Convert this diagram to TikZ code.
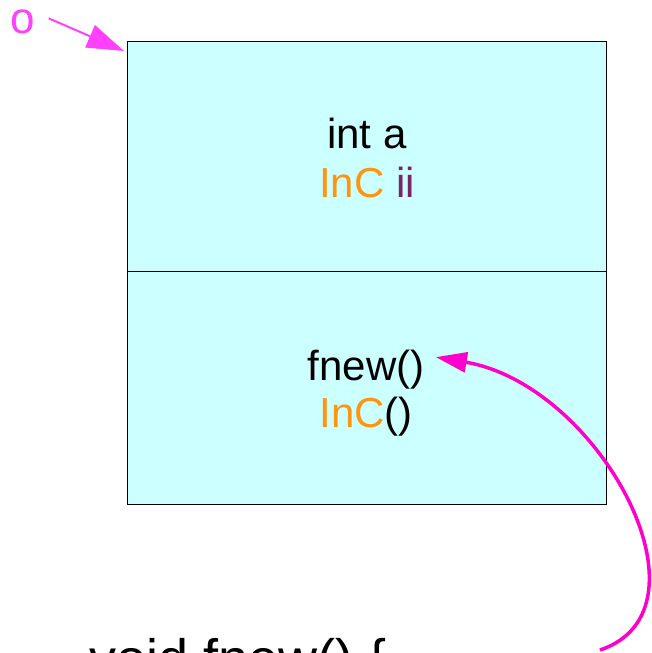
\documentclass[tikz,border=0pt]{standalone}
\usepackage{fontspec}
\setmainfont{Liberation Sans}
\usetikzlibrary{arrows.meta,positioning}
\definecolor{cellcyan}{HTML}{CCFFFF}
\definecolor{incorange}{HTML}{FF950E}
\definecolor{varpurple}{HTML}{7B2366}
\definecolor{refpink}{HTML}{FF40FF}
\definecolor{callpink}{HTML}{FF00CC}

\begin{document}
\begin{tikzpicture}[
  x=1pt, y=-1pt,
  cell/.style={draw, fill=cellcyan, line width=0.8pt, minimum width=479pt, inner sep=0pt, outer sep=0pt},
  code/.style={font=\fontsize{42pt}{49pt}\selectfont, anchor=base},
  refarrow/.style={-{Triangle[length=37pt,width=24pt]}, refpink, line width=2pt},
  callarrow/.style={-{Triangle[length=31pt,width=20pt]}, callpink, line width=3.5pt}
]
\useasboundingbox (0,0) rectangle (652,653);
\clip (0,0) rectangle (652,653);

% object layout: two cells
\node[cell, minimum height=230pt, anchor=north west] (upper) at (127,41) {};
\node[cell, minimum height=233pt, below=0pt of upper] (lower) {};

\node[code] (inta)    at (367,148) {int a};
\node[code] (incii)   at (367,197) {\textcolor{incorange}{InC} \textcolor{varpurple}{ii}};
\node[code] (fnew)    at (366,380) {fnew()};
\node[code] (inccall) at (366,427) {\textcolor{incorange}{InC}()};

% object name pointing at the block
\node[font=\fontsize{44pt}{50pt}\selectfont, text=refpink, anchor=base] (obj) at (23,33) {o};
\draw[refarrow] ([xshift=10pt,yshift=3pt]obj.east) -- ([xshift=-3pt,yshift=-10pt]upper.north west);

% definition below, cut by the page edge
\node[font=\fontsize{54pt}{60pt}\selectfont, anchor=base] (decl) at (238,677) {void fnew() \{};
\coordinate (callsite) at (600,650);
\draw[callarrow] (callsite) .. controls (720,610) and (600,385) .. ([xshift=8pt,yshift=12pt]fnew.east);

\end{tikzpicture}
\end{document}
